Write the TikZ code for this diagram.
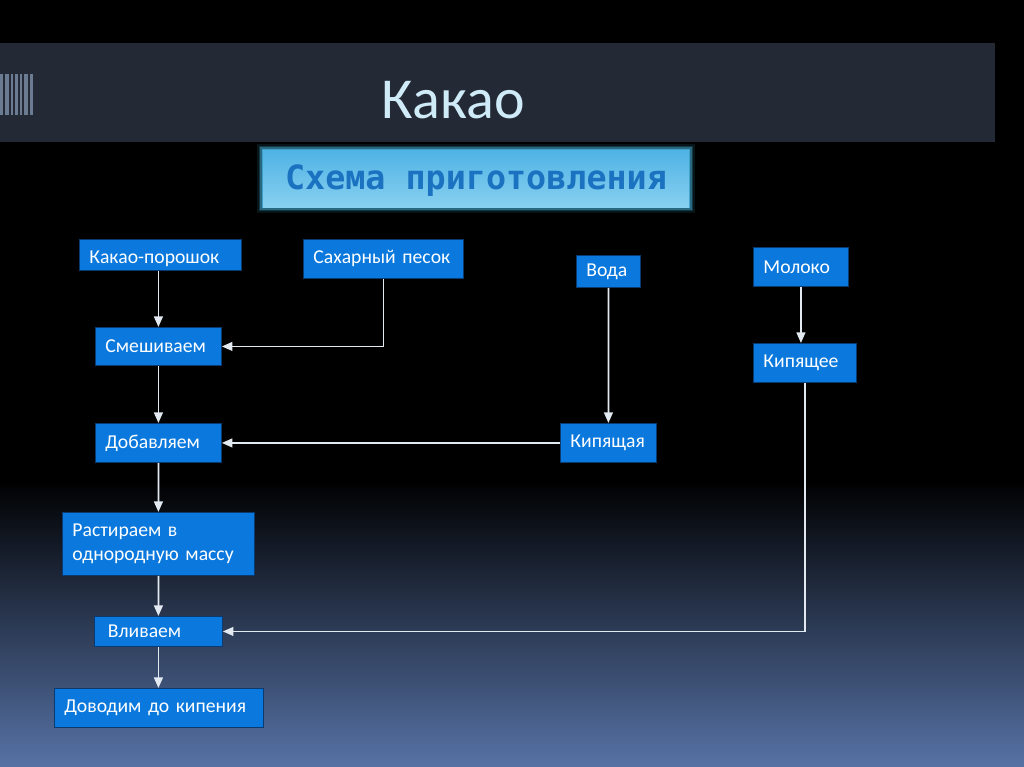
\documentclass[tikz,border=0pt]{standalone}
\usepackage{fontspec}
\setmainfont{Carlito}
\newfontfamily\headfont{DejaVu Sans Mono}
\usepackage{tikz}
\usetikzlibrary{arrows.meta}

\definecolor{bandgray}{HTML}{232935}
\definecolor{stripe}{HTML}{6B7C92}
\definecolor{stepblue}{HTML}{0A78DC}
\definecolor{stepedge}{HTML}{0B3A70}
\definecolor{arrowwhite}{HTML}{E2E9F1}
\definecolor{titlecyan}{HTML}{CFEBF7}
\definecolor{headblue}{HTML}{1A72C0}
\definecolor{headtop}{HTML}{4FB3E5}
\definecolor{headbottom}{HTML}{88D0F0}
\definecolor{bottomblue}{HTML}{5672A5}

\tikzset{
	stepbox/.style 2 args={draw=stepedge, line width=0.5pt, fill=stepblue, text=white,
		font=\fontsize{11.2}{13.5}\selectfont, inner xsep=0.2cm, inner ysep=0pt,
		text width=#1, minimum height=#2, align=left, anchor=north west},
	flow/.style={draw=arrowwhite, line width=1pt, -{Triangle[length=6pt,width=5pt]}}
}

\begin{document}
\begin{tikzpicture}[x=0.02cm, y=-0.02cm]
	\useasboundingbox (0,0) rectangle (1024,767);

	% background
	\fill[black] (0,0) rectangle (1024,767);
	\shade[top color=black, bottom color=bottomblue] (0,480) rectangle (1024,767);

	% title band
	\fill[bandgray] (0,43) rectangle (995,142);
	\foreach \xa/\xb in {0/3, 5/9, 11/13, 15/18, 20/22, 24/28, 30/33} {
		\fill[stripe] (\xa,74) rectangle (\xb,115);
	}
	\node[text=titlecyan, font=\fontsize{33}{38}\selectfont] (title) at (453,100) {Какао};

	% heading box with glow
	\foreach \w/\o in {7/0.10, 5/0.20, 3/0.35, 1.5/0.6} {
		\draw[cyan!70!white, opacity=\o, line width=\w pt] (263,150) rectangle (689,207);
	}
	\shade[top color=headtop, bottom color=headbottom] (263,150) rectangle (689,207);
	\node[text=headblue, font=\headfont\bfseries\fontsize{19}{22}\selectfont] (head) at (476,181) {Схема приготовления};

	% steps
	\node[stepbox={2.84cm}{0.62cm}] (cacao) at (79,239) {\raisebox{0pt}[10pt][0pt]{Какао-порошок}};
	\node[stepbox={2.80cm}{0.78cm}] (sugar) at (303,239) {Сахарный песок};
	\node[stepbox={0.88cm}{0.64cm}] (water) at (576,255) {Вода};
	\node[stepbox={1.50cm}{0.78cm}] (milk) at (753,247) {Молоко};
	\node[stepbox={2.12cm}{0.76cm}] (mix) at (95,327) {Смешиваем};
	\node[stepbox={1.66cm}{0.78cm}] (hotmilk) at (753,343) {Кипящее};
	\node[stepbox={2.12cm}{0.78cm}] (add) at (95,423) {Добавляем};
	\node[stepbox={1.52cm}{0.78cm}] (hotwater) at (560,423) {Кипящая};
	\node[stepbox={3.44cm}{1.26cm}] (rub) at (62,512) {Растираем в\\однородную массу};
	\node[stepbox={2.16cm}{0.60cm}] (pour) at (94,616) {\hspace*{2pt}Вливаем};
	\node[stepbox={3.78cm}{0.78cm}] (boil) at (54,688) {Доводим до кипения};

	% connectors
	\draw[flow] (mix.north |- cacao.south) -- (mix.north);
	\draw[flow] (sugar.south) |- (mix.east);
	\draw[flow] (mix) -- (add);
	\draw[flow] (water) -- (hotwater);
	\draw[flow] (hotwater) -- (add);
	\draw[flow] (add) -- (rub);
	\draw[flow] (rub) -- (pour);
	\draw[flow] (milk.south) -- (milk.south |- hotmilk.north);
	\draw[flow] (hotmilk.south) |- (pour.east);
	\draw[flow] (pour.south) -- (pour.south |- boil.north);
\end{tikzpicture}
\end{document}
